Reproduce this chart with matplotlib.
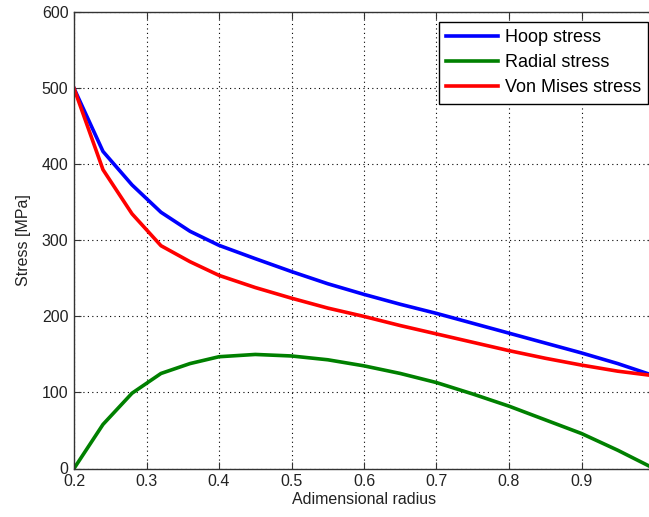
import matplotlib
matplotlib.use("Agg")
import matplotlib.pyplot as plt
import numpy as np

plt.rcParams['font.family'] = ['Liberation Sans', 'DejaVu Sans']

# adimensional radius
radius = [0.2, 0.24, 0.28, 0.32, 0.36, 0.4, 0.45, 0.5, 0.55, 0.6,
          0.65, 0.7, 0.75, 0.8, 0.85, 0.9, 0.95, 1.0]
hoop = [500, 417, 373, 337, 312, 293.5, 276, 259, 243, 229,
        216, 204, 191, 178, 165, 152, 138, 122]
radial = [0, 58, 99, 125, 138, 147, 150, 148, 143, 135,
          125, 113, 98, 82, 64, 46, 24, 0]
von_mises = [500, 393, 335, 293, 272, 254, 238, 224, 211, 200,
             188, 177, 166, 155, 145, 136, 128, 122]

xticks = [0.2, 0.3, 0.4, 0.5, 0.6, 0.7, 0.8, 0.9, 1.0]
xticklabels = ["0.2", "0.3", "0.4", "0.5", "0.6", "0.7", "0.8", "0.9", ""]
yticks = [0, 100, 200, 300, 400, 500, 600]

fig = plt.figure(figsize=(6.49, 5.17), dpi=100)
# right edge of the axes sits just past the picture, like the cropped original
ax = fig.add_axes([74/649, 1 - 468.5/517, 580/649, (468.5 - 12.3)/517])

ax.plot(radius, hoop, color=(0, 0, 1), lw=2.6, label="Hoop stress")
ax.plot(radius, radial, color=(0, 0.5, 0), lw=2.6, label="Radial stress")
ax.plot(radius, von_mises, color=(1, 0, 0), lw=2.6, label="Von Mises stress")

ax.set_xlim(0.2, 1.0)
ax.set_ylim(0, 600)
ax.set_xticks(xticks)
ax.set_xticklabels(xticklabels)
ax.set_yticks(yticks)
ax.tick_params(direction='in', top=True, right=True, labelsize=11.5, length=5,
               color='#333333', labelcolor='#222222', pad=4)
ax.grid(True, color='black', linestyle=(0, (1, 3)), linewidth=0.8)
for s in ax.spines.values():
    s.set_color('#333333')
    s.set_linewidth(1.0)

ax.set_xlabel("Adimensional radius", fontsize=11.5, color='#222222', labelpad=2)
ax.set_ylabel("Stress [MPa]", fontsize=11.5, color='#222222', labelpad=8)

leg = ax.legend(loc='upper right', bbox_to_anchor=(648/649, 1 - 22/517),
                bbox_transform=fig.transFigure, borderaxespad=0,
                fancybox=False, framealpha=1, edgecolor='black',
                fontsize=13, handlelength=2.9, labelspacing=0.45,
                handletextpad=0.35, borderpad=0.4)
leg.get_frame().set_linewidth(1.0)

fig.savefig("out.png", dpi=100)
